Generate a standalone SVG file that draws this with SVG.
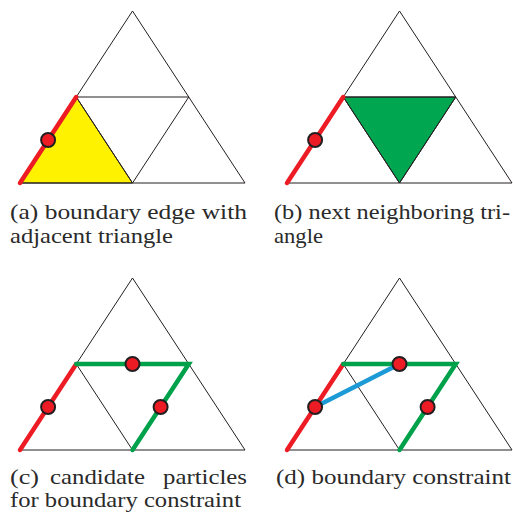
<svg xmlns="http://www.w3.org/2000/svg" width="513" height="516" viewBox="0 0 513 516">
<style>
.bg{fill:#ffffff}
.edge{fill:none;stroke:#231f20;stroke-width:1;stroke-linejoin:miter}
.yellow{fill:#fff200;stroke:#231f20;stroke-width:1}
.green{fill:#00a650;stroke:#231f20;stroke-width:1}
.red{stroke:#ed1c24;stroke-width:4.5;stroke-linecap:round;fill:none}
.gline{stroke:#00a14b;stroke-width:4.5;stroke-linecap:round;fill:none}
.blue{stroke:#1b9ad6;stroke-width:4.5;stroke-linecap:round;fill:none}
.pt{fill:#ed1c24;stroke:#231f20;stroke-width:2}
.cap{font-family:"Liberation Serif","Times New Roman",Times,serif;font-size:22px;fill:#2a2a2a}
</style>
<defs>
<g id="mesh">
<path class="edge" d="M20,183 L132.5,11 L245,183 Z M76.25,97 L188.75,97 L132.5,183 Z"/>
</g>
</defs>
<rect class="bg" x="0" y="0" width="513" height="516"/>

<g id="panel-a">
<polygon class="yellow" points="20,183 76.25,97 132.5,183"/>
<use href="#mesh"/>
<text class="cap" x="10" y="219" textLength="237" lengthAdjust="spacingAndGlyphs">(a) boundary edge with</text>
<text class="cap" x="10" y="243" textLength="163" lengthAdjust="spacingAndGlyphs">adjacent triangle</text>
</g>

<g id="panel-b" transform="translate(267,0)">
<polygon class="green" points="76.25,97 188.75,97 132.5,183"/>
<use href="#mesh"/>
</g>
<g id="caption-b">
<text class="cap" x="274" y="219" textLength="236" lengthAdjust="spacingAndGlyphs">(b) next neighboring tri-</text>
<text class="cap" x="274" y="243" textLength="49" lengthAdjust="spacingAndGlyphs">angle</text>
</g>

<g id="panel-c" transform="translate(0,267)">
<use href="#mesh"/>
</g>
<g id="caption-c">
<text class="cap" x="10" y="484" textLength="29" lengthAdjust="spacingAndGlyphs">(c)</text>
<text class="cap" x="50" y="484" textLength="95" lengthAdjust="spacingAndGlyphs">candidate</text>
<text class="cap" x="163" y="484" textLength="84" lengthAdjust="spacingAndGlyphs">particles</text>
<text class="cap" x="10" y="507" textLength="231" lengthAdjust="spacingAndGlyphs">for boundary constraint</text>
</g>

<g id="panel-d" transform="translate(267,267)">
<use href="#mesh"/>
</g>
<g id="caption-d">
<text class="cap" x="276" y="484" textLength="235" lengthAdjust="spacingAndGlyphs">(d) boundary constraint</text>
</g>

<g id="connectors">
<line class="red" x1="20" y1="183" x2="76.25" y2="97"/>
<line class="red" x1="287" y1="183" x2="343.25" y2="97"/>
<line class="red" x1="20" y1="450" x2="76.25" y2="364"/>
<polyline class="gline" points="76.25,364 188.75,364 132.5,450"/>
<line class="red" x1="287" y1="450" x2="343.25" y2="364"/>
<polyline class="gline" points="343.25,364 455.75,364 399.5,450"/>
<line class="blue" x1="315" y1="407" x2="399.5" y2="364"/>
</g>

<g id="particles">
<circle id="p-a" class="pt" cx="48.1" cy="140" r="7"/>
<circle id="p-b" class="pt" cx="315.1" cy="140" r="7"/>
<circle id="p-c1" class="pt" cx="48.1" cy="407" r="7"/>
<circle id="p-c2" class="pt" cx="132.5" cy="364" r="7"/>
<circle id="p-c3" class="pt" cx="160.6" cy="407" r="7"/>
<circle id="p-d1" class="pt" cx="315.1" cy="407" r="7"/>
<circle id="p-d2" class="pt" cx="399.5" cy="364" r="7"/>
<circle id="p-d3" class="pt" cx="427.6" cy="407" r="7"/>
</g>
</svg>
